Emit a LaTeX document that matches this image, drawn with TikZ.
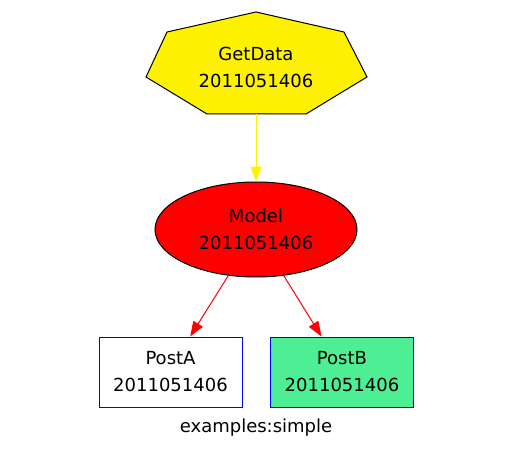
\documentclass[tikz,border=0pt]{standalone}
\usepackage{fontspec}
\setmainfont{DejaVu Sans}
\usetikzlibrary{arrows.meta,shapes.geometric}
\definecolor{seagreen}{RGB}{78,238,148}
\tikzset{
  lbl/.style={align=center,font=\fontsize{18}{27}\selectfont,inner sep=0pt},
  boxnode/.style={lbl,draw=blue,line width=1pt,minimum width=143pt,minimum height=70pt},
  edge/.style={line width=1pt,-{Triangle[length=15pt,width=11pt]}},
}
\begin{document}
\begin{tikzpicture}[x=1pt,y=-1pt]
\useasboundingbox (0,0) rectangle (512,460);
\fill[white] (0,0) rectangle (512,460);
\draw[fill=yellow,line width=1pt] (256,12) -- (344,32) -- (367,77) -- (306,114) -- (207,114) -- (146,77) -- (167,32) -- cycle;
\node[lbl] (g) at (256,67) {GetData\\2011051406};
\coordinate (gb) at (256,114);
\node[lbl,ellipse,draw=black,fill=red,line width=1pt,minimum width=202pt,minimum height=95pt] (m) at (256,229.5) {Model\\2011051406};
\node[boxnode] (a) at (170.5,372) {PostA\\2011051406};
\node[boxnode,fill=seagreen] (b) at (342,372) {PostB\\2011051406};
\node[lbl] (t) at (256,428) {examples:simple};
\draw[edge,yellow] (gb) -- (m.north);
\draw[edge,red] (m.239) -- (a.61);
\draw[edge,red] (m.301) -- (b.120);
\end{tikzpicture}
\end{document}
